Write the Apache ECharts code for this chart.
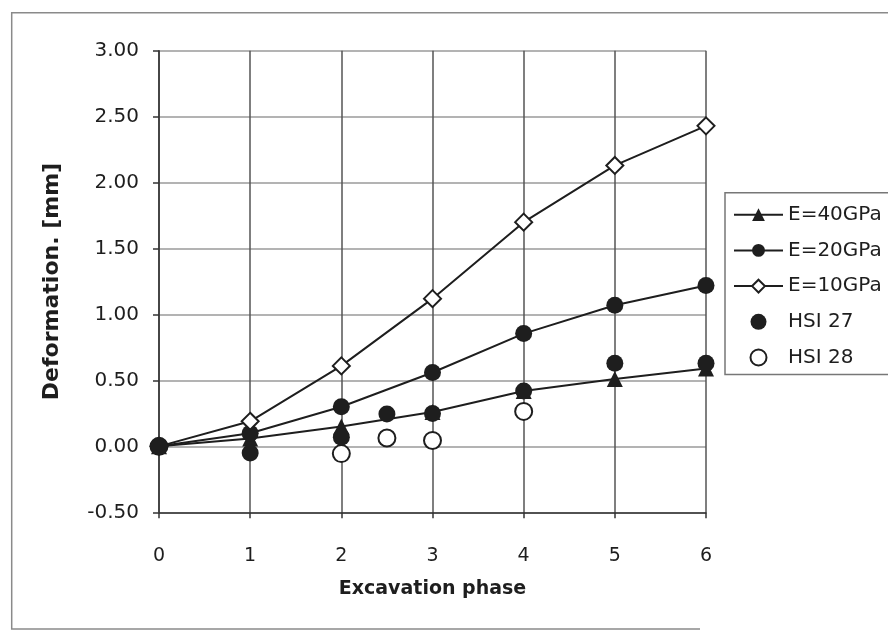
<!DOCTYPE html>
<html>
<head>
<meta charset="utf-8">
<script src="https://cdn.jsdelivr.net/npm/echarts@6/dist/echarts.min.js"></script>
<style>html,body{margin:0;padding:0;background:#fff}#c{width:888px;height:632px}</style>
</head>
<body>
<div id="c"></div>
<script>
// Data
const phases = [0, 1, 2, 3, 4, 5, 6];
const e40 = [0.00, 0.06, 0.15, 0.26, 0.42, 0.51, 0.59];
const e20 = [0.00, 0.10, 0.30, 0.56, 0.855, 1.07, 1.22];
const e10 = [0.00, 0.19, 0.61, 1.12, 1.70, 2.13, 2.43];
const hsi27X = [0, 1, 2, 2.5, 3, 4, 5, 6];
const hsi27Y = [0.00, -0.05, 0.07, 0.245, 0.25, 0.42, 0.63, 0.63];
const hsi28X = [0, 2, 2.5, 3, 4];
const hsi28Y = [0.00, -0.055, 0.063, 0.045, 0.265];
const yTicks = ['-0.50', '0.00', '0.50', '1.00', '1.50', '2.00', '2.50', '3.00'];
const seriesNames = ['E=40GPa', 'E=20GPa', 'E=10GPa', 'HSI 27', 'HSI 28'];

const pair = (xs, ys) => xs.map((x, i) => [x, ys[i]]);
const ink = '#1e1e1e';
const font = 'DejaVu Sans';

const chart = echarts.init(document.getElementById('c'), null, {renderer: 'canvas'});
chart.setOption({
  backgroundColor: '#fff',
  animation: false,
  grid: {left: 159, right: 182, top: 50.7, bottom: 119.7, containLabel: false},
  graphic: [
    {type: 'polyline', shape: {points: [[900, 12.7], [11.7, 12.7], [11.7, 629], [700, 629]]},
     style: {stroke: '#8a8a8a', lineWidth: 1.5, fill: null}, silent: true}
  ],
  xAxis: {
    type: 'value', min: 0, max: 6, interval: 1,
    name: 'Excavation phase', nameLocation: 'middle', nameGap: 67,
    nameTextStyle: {fontFamily: font, fontWeight: 'bold', fontSize: 19, color: ink},
    axisLine: {onZero: false, lineStyle: {color: '#333', width: 1.5}},
    axisTick: {show: true, length: 6, lineStyle: {color: '#333', width: 1.5}},
    axisLabel: {margin: 34, fontFamily: font, fontSize: 19, color: ink,
      formatter: v => String(phases[phases.indexOf(v)])},
    splitLine: {show: true, lineStyle: {color: '#555', width: 1.5}}
  },
  yAxis: {
    type: 'value', min: -0.5, max: 3, interval: 0.5,
    name: 'Deformation. [mm]', nameLocation: 'middle', nameGap: 96, nameRotate: 90,
    nameTextStyle: {fontFamily: font, fontWeight: 'bold', fontSize: 22, color: ink},
    axisLine: {show: true, lineStyle: {color: '#333', width: 1.5}},
    axisTick: {show: true, length: 6, lineStyle: {color: '#333', width: 1.5}},
    axisLabel: {margin: 20, fontFamily: font, fontSize: 20, color: ink,
      formatter: v => yTicks[Math.round((v + 0.5) / 0.5)]},
    splitLine: {show: true, lineStyle: {color: '#9a9a9a', width: 1.5}}
  },
  legend: {
    orient: 'vertical', left: 725, top: 192.7,
    padding: [12, 40, 7, 8],
    itemWidth: 49, itemHeight: 16, itemGap: 15.7,
    backgroundColor: '#fff',
    borderColor: '#777', borderWidth: 1.5, borderRadius: 0,
    textStyle: {fontFamily: font, fontSize: 20, color: ink, lineHeight: 20},
    data: seriesNames
  },
  series: [
    {name: seriesNames[0], type: 'line', data: pair(phases, e40), symbol: 'triangle', symbolSize: 16,
     lineStyle: {color: ink, width: 2}, itemStyle: {color: ink}, z: 3},
    {name: seriesNames[1], type: 'line', data: pair(phases, e20), symbol: 'circle', symbolSize: 17,
     lineStyle: {color: ink, width: 2}, itemStyle: {color: ink}, z: 3},
    {name: seriesNames[2], type: 'line', data: pair(phases, e10), symbol: 'emptyDiamond', symbolSize: 17,
     lineStyle: {color: ink, width: 2}, itemStyle: {color: ink, borderColor: ink, borderWidth: 1.8}, z: 3},
    {name: seriesNames[3], type: 'scatter', data: pair(hsi27X, hsi27Y), symbol: 'circle', symbolSize: 17,
     itemStyle: {color: ink, opacity: 1}, z: 4},
    {name: seriesNames[4], type: 'scatter', data: pair(hsi28X, hsi28Y), symbol: 'emptyCircle', symbolSize: 17,
     itemStyle: {color: ink, borderColor: ink, borderWidth: 1.8, opacity: 1}, z: 2}
  ]
});
</script>
</body>
</html>
